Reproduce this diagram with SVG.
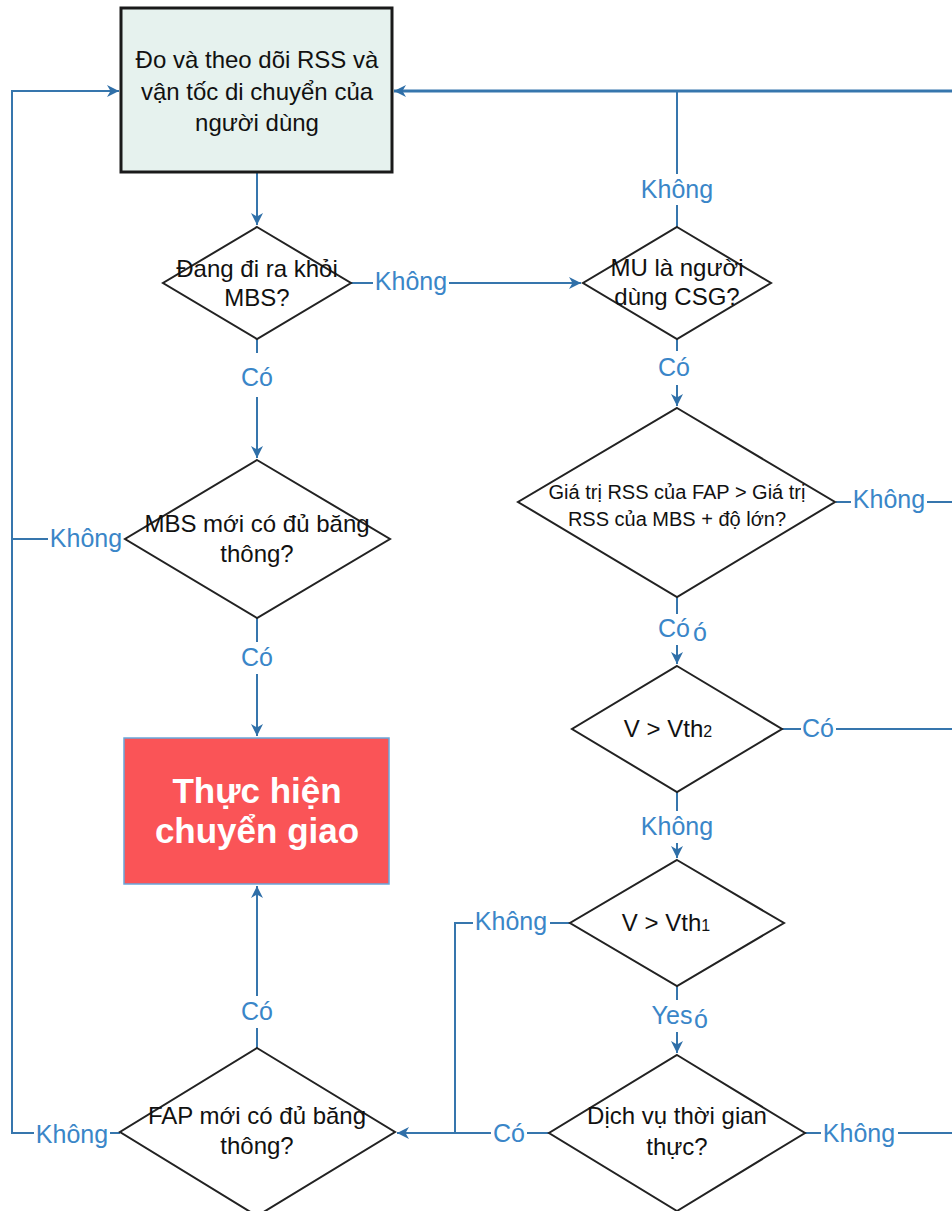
<svg xmlns="http://www.w3.org/2000/svg" width="952" height="1211" viewBox="0 0 952 1211">
<style>
.c{fill:none;stroke:#3676ad;stroke-width:2}
.ct{fill:none;stroke:#3676ad;stroke-width:3}
.d{fill:#fff;stroke:#222;stroke-width:2}
.t{font-family:"Liberation Sans",Arial,sans-serif;font-size:24px;fill:#111;text-anchor:middle}
.ts{font-family:"Liberation Sans",Arial,sans-serif;font-size:20px;fill:#111;text-anchor:middle}
.l{font-family:"Liberation Sans",Arial,sans-serif;font-size:25px;fill:#3a86c8;text-anchor:middle}
.bg{fill:#fff}
.w{font-family:"Liberation Sans",Arial,sans-serif;font-size:35px;font-weight:bold;fill:#fff;text-anchor:middle}
</style>
<defs>
<marker id="a" markerUnits="userSpaceOnUse" markerWidth="14" markerHeight="12" refX="12" refY="6" orient="auto">
<path d="M0,0 L12,6 L0,12 L3.5,6 z" fill="#2f6fa8"/>
</marker>
</defs>
<g id="connectors">
<polyline class="c" points="124,539 12,539 12,91 119,91" marker-end="url(#a)"/>
<polyline class="c" points="120,1133 12,1133 12,539"/>
<line class="ct" x1="952" y1="91" x2="394" y2="91" marker-end="url(#a)"/>
<line class="c" x1="677" y1="227" x2="677" y2="91"/>
<line class="c" x1="257" y1="172" x2="257" y2="225" marker-end="url(#a)"/>
<line class="c" x1="351" y1="283" x2="581" y2="283" marker-end="url(#a)"/>
<line class="c" x1="257" y1="339" x2="257" y2="458" marker-end="url(#a)"/>
<line class="c" x1="257" y1="618" x2="257" y2="736" marker-end="url(#a)"/>
<line class="c" x1="257" y1="1048" x2="257" y2="886" marker-end="url(#a)"/>
<line class="c" x1="677" y1="339" x2="677" y2="406" marker-end="url(#a)"/>
<line class="c" x1="836" y1="502" x2="952" y2="502"/>
<line class="c" x1="677" y1="597" x2="677" y2="664" marker-end="url(#a)"/>
<line class="c" x1="782" y1="729" x2="952" y2="729"/>
<line class="c" x1="677" y1="792" x2="677" y2="858" marker-end="url(#a)"/>
<polyline class="c" points="571,923 455,923 455,1133"/>
<line class="c" x1="677" y1="986" x2="677" y2="1053" marker-end="url(#a)"/>
<line class="c" x1="549" y1="1133" x2="397" y2="1133" marker-end="url(#a)"/>
<line class="c" x1="805" y1="1133" x2="952" y2="1133"/>
<g id="labels">
<rect class="bg" x="639" y="174" width="77" height="31"/><text class="l" x="677" y="198">Không</text>
<rect class="bg" x="373" y="268" width="76" height="29"/><text class="l" x="411" y="290">Không</text>
<rect class="bg" x="239" y="353" width="36" height="44"/><text class="l" x="257" y="386">Có</text>
<rect class="bg" x="48" y="525" width="76" height="29"/><text class="l" x="86" y="547">Không</text>
<rect class="bg" x="239" y="642" width="36" height="32"/><text class="l" x="257" y="666">Có</text>
<rect class="bg" x="239" y="996" width="36" height="32"/><text class="l" x="257" y="1020">Có</text>
<rect class="bg" x="34" y="1119" width="76" height="29"/><text class="l" x="72" y="1143">Không</text>
<rect class="bg" x="656" y="351" width="36" height="34"/><text class="l" x="674" y="376">Có</text>
<rect class="bg" x="851" y="488" width="76" height="29"/><text class="l" x="889" y="508">Không</text>
<rect class="bg" x="655" y="614" width="58" height="31"/><text class="l" x="674" y="637">Có</text><text class="l" x="700" y="641">ó</text>
<rect class="bg" x="801" y="715" width="35" height="29"/><text class="l" x="818" y="737">Có</text>
<rect class="bg" x="639" y="811" width="77" height="32"/><text class="l" x="677" y="835">Không</text>
<rect class="bg" x="473" y="909" width="77" height="29"/><text class="l" x="511" y="930">Không</text>
<rect class="bg" x="651" y="1000" width="60" height="32"/><text class="l" x="672" y="1024">Yes</text><text class="l" x="701" y="1028">ó</text>
<rect class="bg" x="491" y="1119" width="36" height="29"/><text class="l" x="509" y="1142">Có</text>
<rect class="bg" x="821" y="1119" width="77" height="29"/><text class="l" x="859" y="1142">Không</text>
</g>
</g>
<g id="start">
<rect x="121" y="8" width="271" height="164" fill="#e6f2ee" stroke="#1a1a1a" stroke-width="3"/>
<text class="t" x="257" y="68">Đo và theo dõi RSS và</text>
<text class="t" x="257" y="100">vận tốc di chuyển của</text>
<text class="t" x="257" y="131">người dùng</text>
</g>
<g id="d1">
<polygon class="d" points="257,227 351,283 257,339 163,283"/>
<text class="t" x="257" y="277">Đang đi ra khỏi</text>
<text class="t" x="257" y="306">MBS?</text>
</g>
<g id="d2">
<polygon class="d" points="257,460 390,539 257,618 125,539"/>
<text class="t" x="257" y="532">MBS mới có đủ băng</text>
<text class="t" x="257" y="562">thông?</text>
</g>
<g id="handover">
<rect x="124" y="738" width="265" height="146" fill="#fa5457" stroke="#6aa6da" stroke-width="1.5"/>
<text class="w" x="257" y="803">Thực hiện</text>
<text class="w" x="257" y="843">chuyển giao</text>
</g>
<g id="fap">
<polygon class="d" points="257,1048 395,1132 257,1216 120,1132"/>
<text class="t" x="257" y="1124">FAP mới có đủ băng</text>
<text class="t" x="257" y="1154">thông?</text>
</g>
<g id="mu">
<polygon class="d" points="677,227 771,283 677,339 583,283"/>
<text class="t" x="677" y="276">MU là người</text>
<text class="t" x="677" y="305">dùng CSG?</text>
</g>
<g id="rss">
<polygon class="d" points="677,408 835,502 677,597 518,502"/>
<text class="ts" x="677" y="499">Giá trị RSS của FAP &gt; Giá trị</text>
<text class="ts" x="677" y="526">RSS của MBS + độ lớn?</text>
</g>
<g id="vth2">
<polygon class="d" points="677,666 782,729 677,792 572,729"/>
<text class="t" x="668" y="737">V &gt; Vth<tspan style="font-size:16px">2</tspan></text>
</g>
<g id="vth1">
<polygon class="d" points="677,860 784,923 677,986 570,923"/>
<text class="t" x="666" y="931">V &gt; Vth<tspan style="font-size:16px">1</tspan></text>
</g>
<g id="rt">
<polygon class="d" points="677,1055 805,1133 677,1211 549,1133"/>
<text class="t" x="677" y="1124">Dịch vụ thời gian</text>
<text class="t" x="677" y="1155">thực?</text>
</g>
</svg>
